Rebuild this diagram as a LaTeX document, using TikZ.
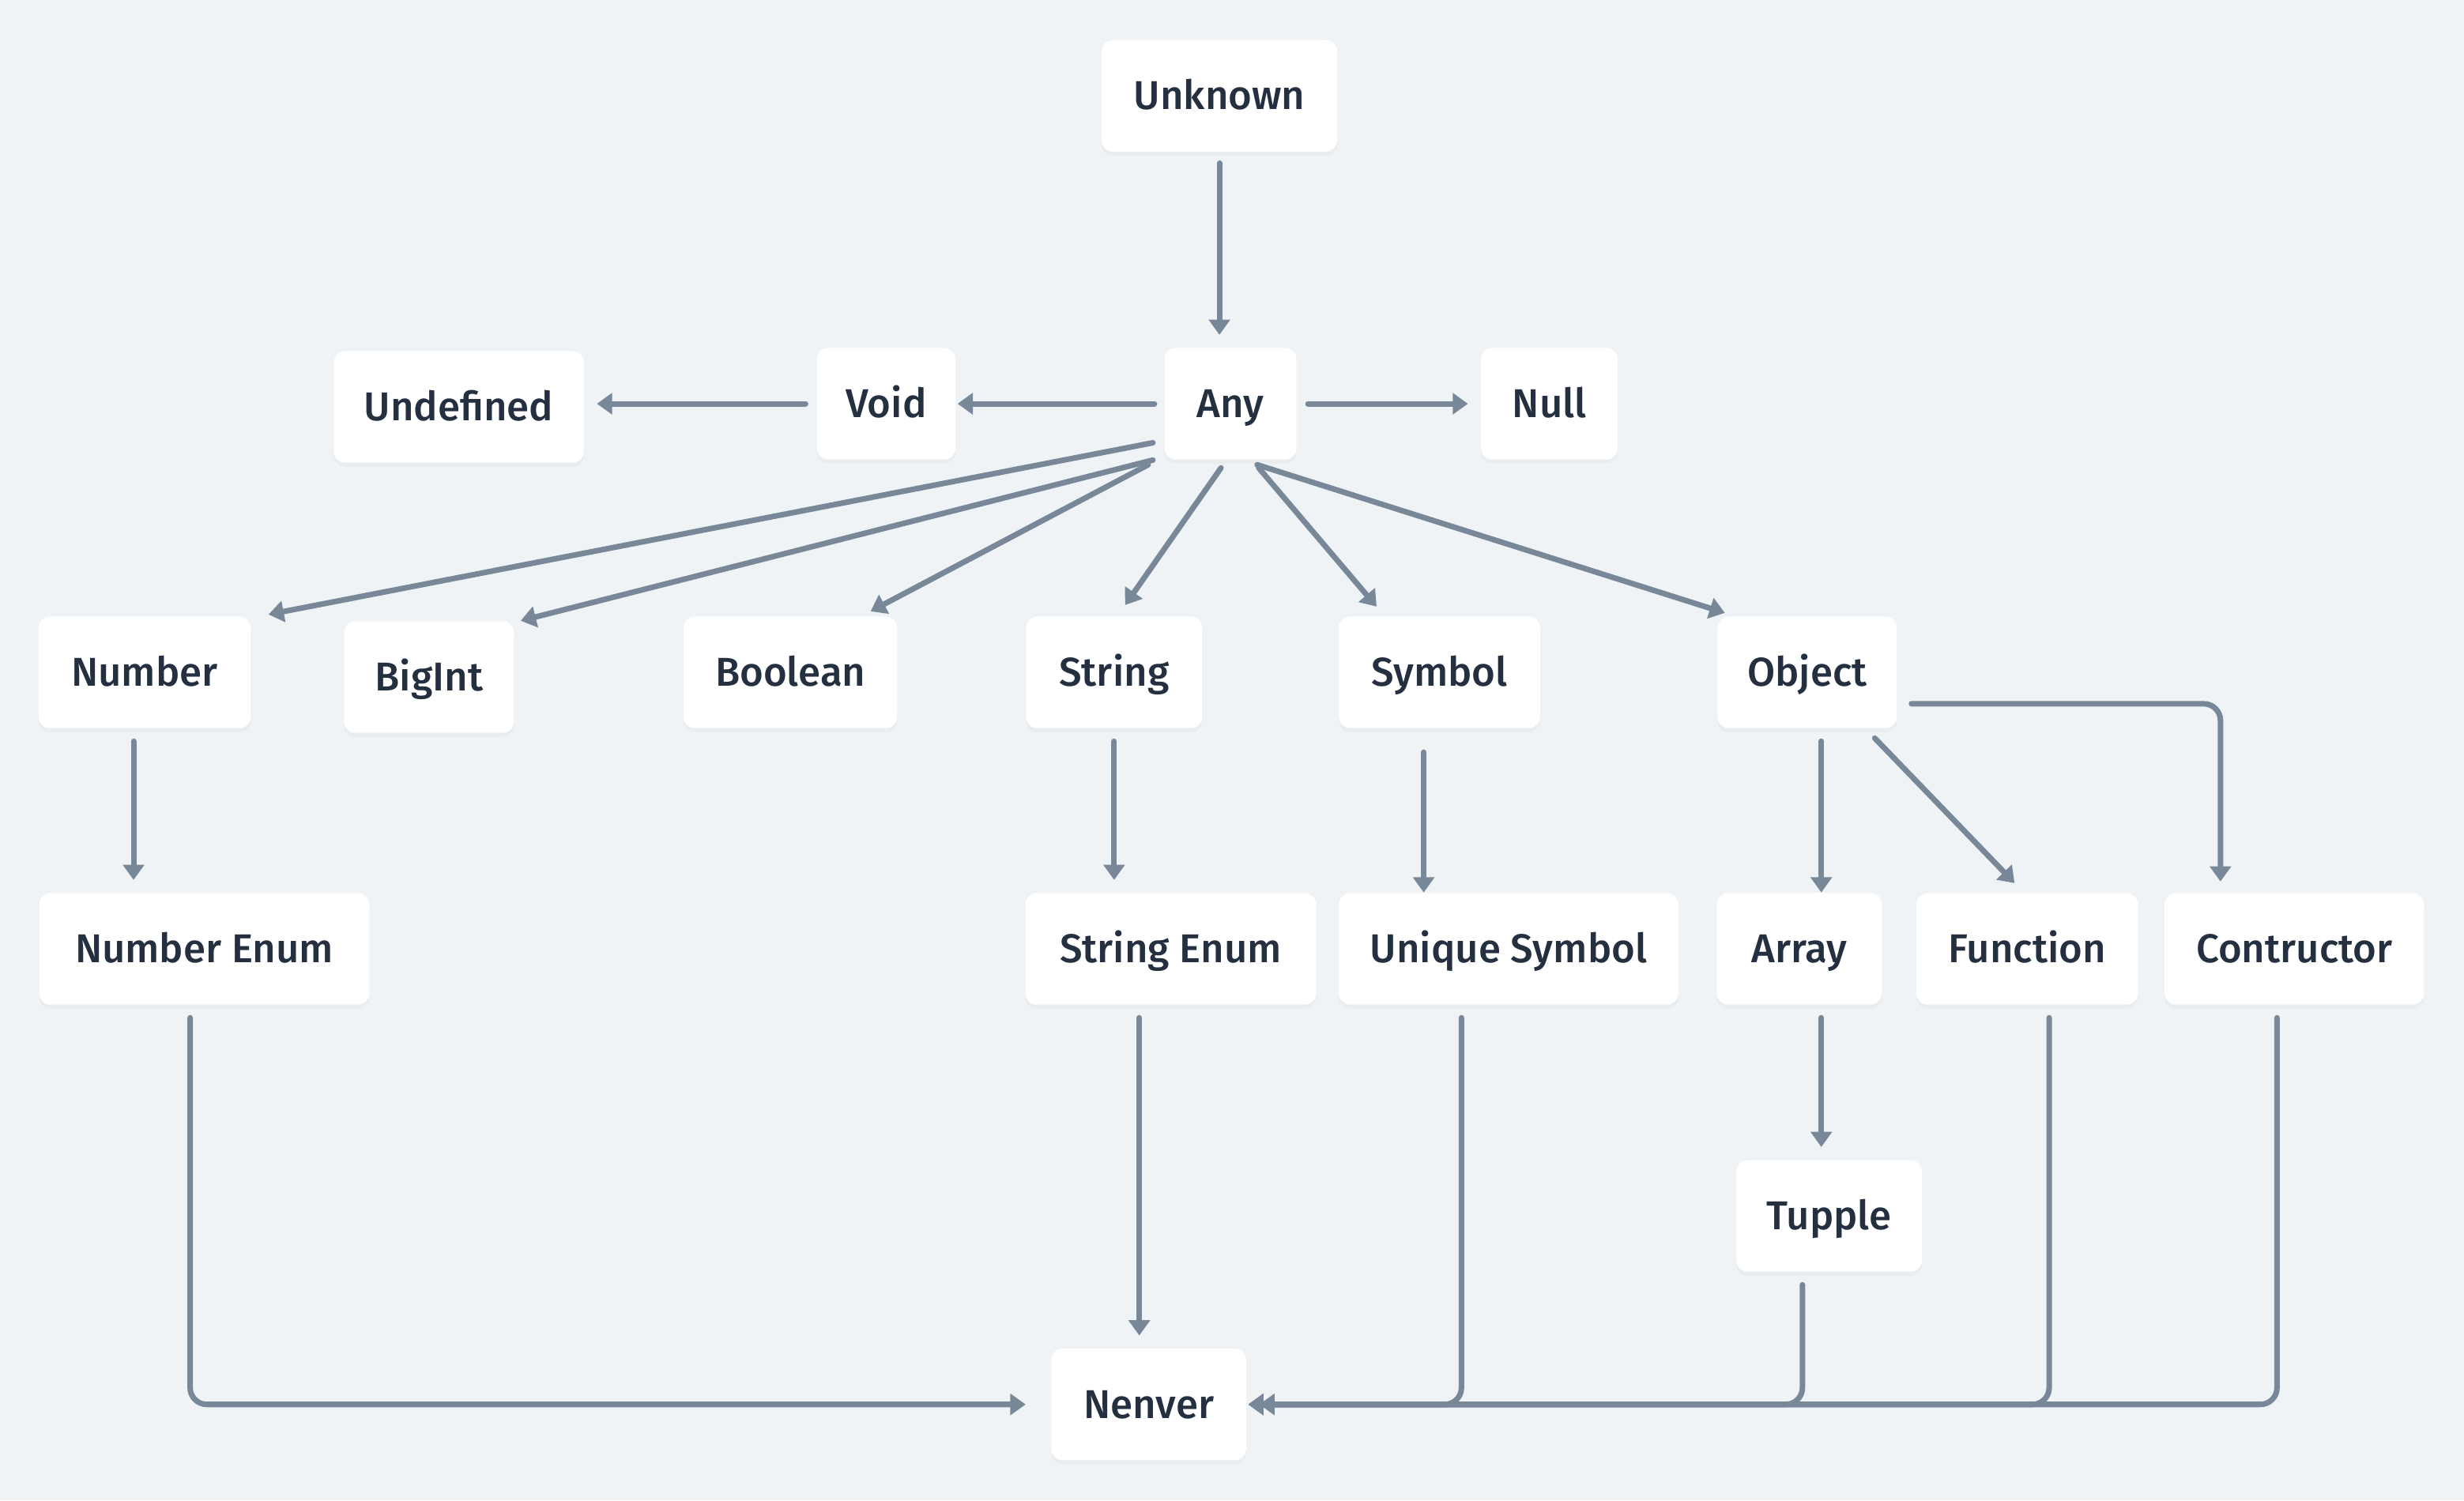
\documentclass[tikz,border=0pt]{standalone}
\usepackage{fontspec}
\setmainfont{Fira Sans Medium}
\usepackage{tikz}
\usetikzlibrary{arrows.meta, calc, shadows}
\definecolor{bgpaper}{RGB}{239, 243, 246}
\definecolor{edgegray}{RGB}{120, 136, 153}
\definecolor{inkblue}{RGB}{36, 48, 64}
\newcommand{\upx}{0.19885mm}

\tikzset{
  tbox/.style={fill=white, rounded corners=4pt, minimum height=71*\upx, minimum width=#1*\upx,
    inner sep=0pt, text height=10pt, text depth=0pt, text=inkblue, font=\fontsize{14.5}{17}\selectfont,
    drop shadow={opacity=0.05, shadow xshift=0pt, shadow yshift=-1.5pt}},
  arr/.style={-{Triangle[length=5.5pt, width=7.5pt]}, line width=2pt, draw=edgegray, line cap=round},
  elbow/.style={arr, rounded corners=6pt}
}

\begin{document}
\begin{tikzpicture}[x=\upx, y=-\upx]
  \fill[bgpaper] (0,0) rectangle (1568,955);

  % Top types
  \node[tbox=150] (unknown) at (776,61) {Unknown};
  \node[tbox=84] (any) at (783,257) {Any};
  \node[tbox=88] (void) at (564,257) {Void};
  \node[tbox=159] (undefined) at (292,259) {Undefined};
  \node[tbox=87] (null) at (986,257) {Null};

  % Primitive row
  \node[tbox=135] (number) at (92,428) {Number};
  \node[tbox=108] (bigint) at (273,431) {BigInt};
  \node[tbox=136] (boolean) at (503,428) {Boolean};
  \node[tbox=112] (string) at (709,428) {String};
  \node[tbox=128] (symbol) at (916,428) {Symbol};
  \node[tbox=114] (object) at (1150,428) {Object};

  % Sub types
  \node[tbox=210] (numenum) at (130,604) {Number Enum};
  \node[tbox=185] (strenum) at (745,604) {String Enum};
  \node[tbox=216] (unique) at (960,604) {Unique Symbol};
  \node[tbox=105] (array) at (1145,604) {Array};
  \node[tbox=141] (function) at (1290,604) {Function};
  \node[tbox=165] (contructor) at (1460,604) {Contructor};
  \node[tbox=118] (tupple) at (1164,774) {Tupple};
  \node[tbox=124] (nenver) at (731,894) {Nenver};

  % Unknown and Any
  \draw[arr] ($(unknown.south)+(0,7)$) -- ($(unknown.south|-any.north)+(0,-8)$);
  \draw[arr] ($(any.west)+(-6,0)$) -- ($(void.east)+(1,0)$);
  \draw[arr] ($(void.west)+(-7,0)$) -- ($(undefined.east|-void.west)+(8,0)$);
  \draw[arr] ($(any.east)+(7,0)$) -- ($(null.west)+(-8,0)$);

  % Any to the primitives
  \draw[arr] ($(any.south west)+(-7,-11)$) -- ($(number.north east)+(11,-1)$);
  \draw[arr] ($(any.south west)+(-7,0)$) -- ($(bigint.north east)+(4,0)$);
  \draw[arr] ($(any.south west)+(-10,3)$) -- ($(boolean.north)+(51,-3)$);
  \draw[arr] ($(any.south)+(-6,5)$) -- ($(string.north)+(7,-7)$);
  \draw[arr] ($(any.south)+(18,5)$) -- ($(symbol.north)+(-40,-6)$);
  \draw[arr] ($(any.south)+(17,3)$) -- ($(object.north west)+(5,-2)$);

  % Primitives to sub types
  \draw[arr] ($(number.south)+(-7,8)$) -- ($(number.south|-numenum.north)+(-7,-8)$);
  \draw[arr] ($(string.south)+(0,8)$) -- ($(string.south|-strenum.north)+(0,-8)$);
  \draw[arr] ($(symbol.south)+(-10,15)$) -- ($(symbol.south|-unique.north)+(-10,0)$);
  \draw[arr] ($(object.south)+(9,8)$) -- ($(object.south|-array.north)+(9,0)$);
  \draw[arr] ($(object.south)+(43,6)$) -- ($(function.north)+(-8,-6)$);
  \draw[elbow] ($(object.east)+(9,20)$) -| ($(contructor.north)+(-47,-7)$);
  \draw[arr] ($(array.south)+(14,8)$) -- ($(array.south|-tupple.north)+(14,-8)$);

  % Everything ends in Nenver
  \draw[elbow] ($(numenum.south)+(-9,8)$) |- ($(nenver.west)+(-16,0)$);
  \draw[arr] ($(strenum.south)+(-20,8)$) -- ($(nenver.north)+(-6,-8)$);
  \draw[elbow] ($(unique.south)+(-30,8)$) |- ($(nenver.east)+(8,0)$);
  \draw[elbow] ($(tupple.south)+(-17,8)$) |- ($(nenver.east)+(1,0)$);
  \draw[elbow] ($(function.south)+(14,8)$) |- ($(nenver.east)+(1,0)$);
  \draw[elbow] ($(contructor.south)+(-11,8)$) |- ($(nenver.east)+(1,0)$);
\end{tikzpicture}
\end{document}
